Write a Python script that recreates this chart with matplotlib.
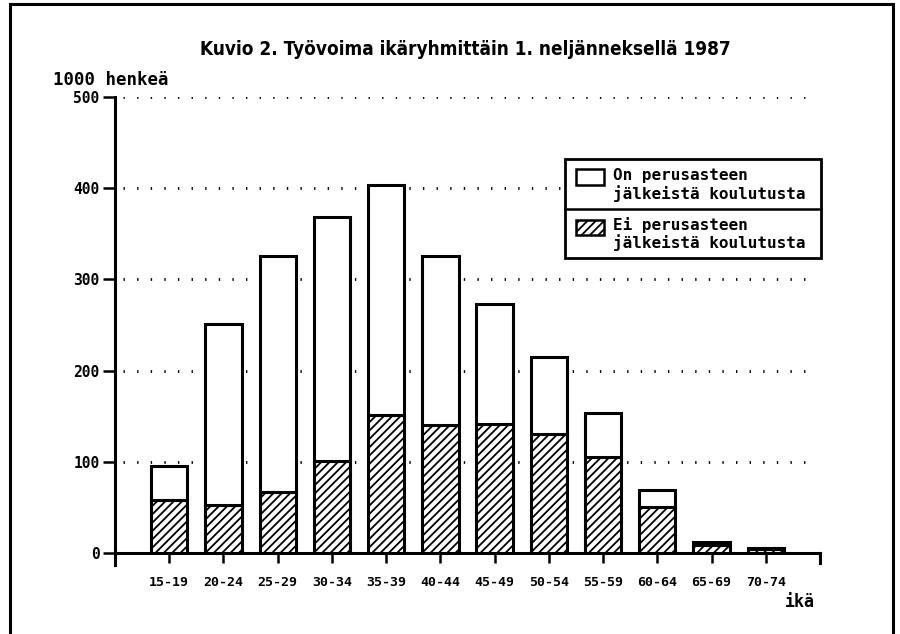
import matplotlib
matplotlib.use("Agg")
import matplotlib.pyplot as plt
from matplotlib.patches import Rectangle
from matplotlib.lines import Line2D

# Työvoima ikäryhmittäin, 1000 henkeä (luettu kuvasta)
ikaryhmat = ["15-19", "20-24", "25-29", "30-34", "35-39", "40-44",
             "45-49", "50-54", "55-59", "60-64", "65-69", "70-74"]
yhteensa = [95, 251, 326, 368, 403, 326, 273, 215, 154, 69, 12, 6]
ei_koulutusta = [58, 53, 67, 101, 151, 140, 141, 131, 105, 50, 9, 4]
on_koulutusta = [t - e for t, e in zip(yhteensa, ei_koulutusta)]
y_ticks = [0, 100, 200, 300, 400, 500]

W, H = 900, 634
mono = ["DejaVu Sans Mono"]
plt.rcParams["hatch.linewidth"] = 1.3

fig = plt.figure(figsize=(9, 6.34), dpi=100)

def fx(px):
    return px / W

def fy(py):
    return 1 - py / H

ax = fig.add_axes([fx(115), fy(553), fx(820) - fx(115), fy(97) - fy(553)])
x = list(range(len(ikaryhmat)))

# dotted grid
for v in y_ticks[1:]:
    ax.plot([-0.85, 11.95], [v, v], color="black", lw=2.0,
            ls=(0, (0.5, 4.4)), zorder=1)

ax.bar(x, ei_koulutusta, width=0.67, color="white", edgecolor="black",
       linewidth=2.2, hatch="////", zorder=3)
ax.bar(x, on_koulutusta, bottom=ei_koulutusta, width=0.67, color="white",
       edgecolor="black", linewidth=2.2, zorder=3)

ax.set_xlim(-1, 12)
ax.set_ylim(0, 500)
for s in ["top", "right", "left"]:
    ax.spines[s].set_visible(False)
ax.spines["bottom"].set_linewidth(2.2)
# y axis going a bit below zero
ax.plot([-1, -1], [-13, 500], color="black", lw=2.2, clip_on=False, zorder=4)
ax.plot([12, 12], [0, -11], color="black", lw=2.2, clip_on=False, zorder=4)

ax.set_xticks(x)
ax.set_xticklabels(ikaryhmat, family=mono, fontweight="bold", fontsize=9.5)
ax.tick_params(axis="x", direction="out", length=7.5, width=1.8, pad=9)
ax.set_yticks(y_ticks)
ax.set_yticklabels([str(v) for v in y_ticks], family=mono,
                   fontweight="bold", fontsize=10.5)
ax.tick_params(axis="y", direction="out", length=9, width=1.8, pad=2)

fig.text(fx(465), fy(55), "Kuvio 2. Työvoima ikäryhmittäin 1. neljänneksellä 1987",
         family=["DejaVu Sans"], fontstretch="condensed", fontweight="bold",
         fontsize=13.6, ha="center", va="baseline")
fig.text(fx(53), fy(85), "1000 henkeä", family=mono, fontweight="bold",
         fontsize=12.5, ha="left", va="baseline")
fig.text(fx(815), fy(602), "ikä", family=mono, fontweight="bold",
         fontsize=12, ha="right", va="center")

# legend drawn by hand
tf = fig.transFigure
fig.add_artist(Rectangle((fx(565), fy(258)), fx(821) - fx(565), fy(159) - fy(258),
                         transform=tf, fill=True, fc="white", lw=2, ec="black"))
fig.add_artist(Line2D([fx(565), fx(821)], [fy(209), fy(209)], transform=tf,
                      lw=1.8, color="black"))
fig.add_artist(Rectangle((fx(576), fy(185)), fx(604) - fx(576), fy(169) - fy(185),
                         transform=tf, fill=True, fc="white", lw=1.8, ec="black"))
fig.add_artist(Rectangle((fx(576), fy(235)), fx(604) - fx(576), fy(220) - fy(235),
                         transform=tf, fill=True, fc="white", lw=1.8, ec="black",
                         hatch="////"))
fig.text(fx(613), fy(185), "On perusasteen\njälkeistä koulutusta", family=mono,
         fontweight="bold", fontsize=11.5, ha="left", va="center", linespacing=1.15)
fig.text(fx(613), fy(234), "Ei perusasteen\njälkeistä koulutusta", family=mono,
         fontweight="bold", fontsize=11.5, ha="left", va="center", linespacing=1.15)

# page frame
fig.add_artist(Line2D([fx(10), fx(10)], [0, fy(4)], transform=tf, lw=2.2, color="black"))
fig.add_artist(Line2D([fx(10), fx(893)], [fy(4), fy(4)], transform=tf, lw=2.2, color="black"))
fig.add_artist(Line2D([fx(893), fx(893)], [fy(4), 0], transform=tf, lw=2.2, color="black"))

fig.savefig("out.png", dpi=100)
